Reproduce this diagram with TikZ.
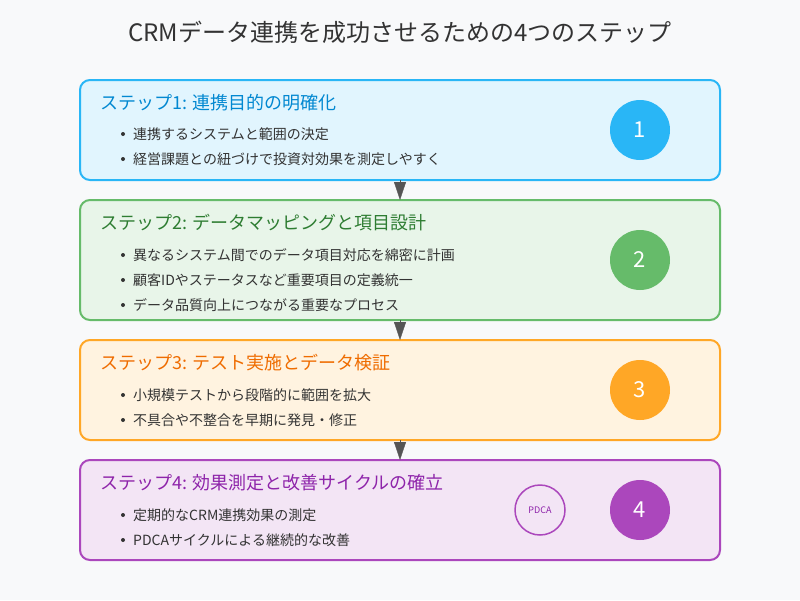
\documentclass[tikz,border=0pt]{standalone}
\usepackage{fontspec}
\setmainfont{Noto Sans CJK JP}
\usepackage{tikz}
\definecolor{bggray}{RGB}{248,249,250}
\definecolor{textgray}{RGB}{51,51,51}
\definecolor{arrowgray}{RGB}{85,85,85}
\definecolor{stepblue}{RGB}{41,182,246}
\definecolor{stepbluefill}{RGB}{225,245,254}
\definecolor{stepbluetext}{RGB}{2,136,209}
\definecolor{stepgreen}{RGB}{102,187,106}
\definecolor{stepgreenfill}{RGB}{232,245,233}
\definecolor{stepgreentext}{RGB}{46,125,50}
\definecolor{steporange}{RGB}{255,167,38}
\definecolor{steporangefill}{RGB}{255,243,224}
\definecolor{steporangetext}{RGB}{239,108,0}
\definecolor{steppurple}{RGB}{171,71,188}
\definecolor{steppurplefill}{RGB}{243,229,245}
\definecolor{steppurpletext}{RGB}{142,36,170}
\usetikzlibrary{arrows.meta}

\tikzset{
  stepbox/.style={draw=#1, fill=#1fill, line width=2pt, rounded corners=10pt,
    minimum width=640pt, inner sep=0pt, outer sep=0pt},
  numcircle/.style={circle, fill=#1, text=white, font=\fontsize{22}{26}\selectfont,
    minimum size=60pt, inner sep=0pt},
  steptitle/.style={anchor=west, inner sep=0pt, text=#1, font=\fontsize{18}{22}\selectfont},
  item/.style={anchor=west, inner sep=0pt, text=textgray, font=\fontsize{14}{17}\selectfont},
  flowarrow/.style={-{Triangle[length=18pt,width=12pt]}, arrowgray, line width=0.4pt}
}

\begin{document}
\begin{tikzpicture}[x=1pt, y=-1pt]
        \fill[bggray] (0,0) rectangle (800,600);
        \useasboundingbox (0,0) rectangle (800,600);
        \node[text=textgray, font=\fontsize{24}{28}\selectfont] (title) at (400,32) {CRMデータ連携を成功させるための4つのステップ};

        % step 1
        \node[stepbox=stepblue, minimum height=100pt] (s1) at (400,130) {};
        \node[steptitle=stepbluetext] (t1) at (100,103) {ステップ1: 連携目的の明確化};
        \fill[textgray] (123,134) circle (2);
        \node[item] (i11) at (133,134) {連携するシステムと範囲の決定};
        \fill[textgray] (123,159) circle (2);
        \node[item] (i12) at (133,159) {経営課題との紐づけで投資対効果を測定しやすく};
        \node[numcircle=stepblue] (n1) at (640,130) {1};

        % step 2
        \node[stepbox=stepgreen, minimum height=120pt] (s2) at (400,260) {};
        \node[steptitle=stepgreentext] (t2) at (100,223) {ステップ2: データマッピングと項目設計};
        \fill[textgray] (123,255) circle (2);
        \node[item] (i21) at (133,255) {異なるシステム間でのデータ項目対応を綿密に計画};
        \fill[textgray] (123,280) circle (2);
        \node[item] (i22) at (133,280) {顧客IDやステータスなど重要項目の定義統一};
        \fill[textgray] (123,305) circle (2);
        \node[item] (i23) at (133,305) {データ品質向上につながる重要なプロセス};
        \node[numcircle=stepgreen] (n2) at (640,260) {2};

        % step 3
        \node[stepbox=steporange, minimum height=100pt] (s3) at (400,390) {};
        \node[steptitle=steporangetext] (t3) at (100,363) {ステップ3: テスト実施とデータ検証};
        \fill[textgray] (123,395) circle (2);
        \node[item] (i31) at (133,395) {小規模テストから段階的に範囲を拡大};
        \fill[textgray] (123,420) circle (2);
        \node[item] (i32) at (133,420) {不具合や不整合を早期に発見・修正};
        \node[numcircle=steporange] (n3) at (640,390) {3};

        % step 4
        \node[stepbox=steppurple, minimum height=100pt] (s4) at (400,510) {};
        \node[steptitle=steppurpletext] (t4) at (100,483) {ステップ4: 効果測定と改善サイクルの確立};
        \fill[textgray] (123,515) circle (2);
        \node[item] (i41) at (133,515) {定期的なCRM連携効果の測定};
        \fill[textgray] (123,540) circle (2);
        \node[item] (i42) at (133,540) {PDCAサイクルによる継続的な改善};
        \node[circle, draw=steppurple, line width=1.5pt, minimum size=50pt, inner sep=0pt,
          text=steppurpletext, font=\fontsize{9}{11}\selectfont] (pdca) at (540,510) {PDCA};
        \node[numcircle=steppurple] (n4) at (640,510) {4};

        \draw[flowarrow] (s1.south) -- (s2.north);
        \draw[flowarrow] (s2.south) -- (s3.north);
        \draw[flowarrow] (s3.south) -- (s4.north);
    \end{tikzpicture}
\end{document}
